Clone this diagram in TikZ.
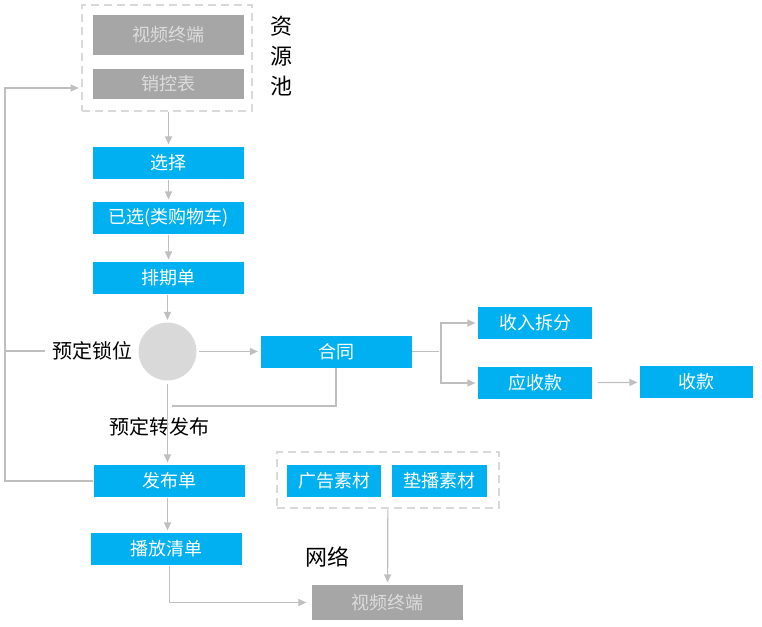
\documentclass[tikz,border=0pt]{standalone}
\usepackage{fontspec}
\setmainfont{Noto Sans CJK SC}
\usetikzlibrary{arrows.meta, positioning}
\definecolor{skyblue}{HTML}{00B0F0}
\definecolor{boxgray}{HTML}{A6A6A6}
\definecolor{textgray}{HTML}{DCDCDC}
\definecolor{linegray}{HTML}{BFBFBF}
\definecolor{dashgray}{HTML}{D9D9D9}

\tikzset{
  box/.style={rectangle, fill=skyblue, text=white, minimum width=151pt, minimum height=32pt, inner sep=0pt, font=\fontsize{18}{20}\selectfont},
  gbox/.style={box, fill=boxgray, text=textgray},
  groupbox/.style={rectangle, draw=dashgray, line width=2.6pt, dash pattern=on 8pt off 5pt, inner sep=0pt},
  label/.style={font=\fontsize{20}{22}\selectfont, inner sep=0pt}
}

\begin{document}
\begin{tikzpicture}[->,>={Triangle[length=8pt,width=7pt]},shorten >=2pt,x=1pt,y=-1pt,line width=1.2pt,draw=linegray]
                \useasboundingbox (0,0) rectangle (762,626);
                % resource pool
                \node[groupbox, minimum width=170pt, minimum height=106pt] (pool) at (167,58) {};
                \node[gbox, minimum height=40pt] (term) at (168.5,35) {视频终端};
                \node[gbox, minimum height=30pt] (ctrl) [below of = term, node distance=49pt] {销控表};
                \node[label, align=center, font=\fontsize{22}{30}\selectfont] (pooltxt) at (281,56) {资\\源\\池};
                % main column
                \node[box] (sel) at (168.5,163) {选择};
                \node[box] (cart) [below of = sel, node distance=55pt] {已选(类购物车)};
                \node[box] (plan) [below of = cart, node distance=60pt] {排期单};
                \node[circle, fill=dashgray, minimum size=58pt, inner sep=0pt] (lock) at (167.5,351.5) {};
                \node[label] (locktxt) at (92.5,351) {预定锁位};
                \node[box] (contract) at (336,351.5) {合同};
                \node[box, minimum width=114pt] (split) at (535,323) {收入拆分};
                \node[box, minimum width=114pt] (recv) [below of = split, node distance=60pt] {应收款};
                \node[box, minimum width=113pt] (pay) at (696.5,382) {收款};
                \node[label] (turntxt) at (159,427) {预定转发布};
                \node[box] (publish) at (169.5,481) {发布单};
                \node[box] (playlist) at (166.5,549) {播放清单};
                % materials
                \node[groupbox, minimum width=222pt, minimum height=56pt] (mat) at (388,480) {};
                \node[box, minimum width=94pt] (ad) at (334,481) {广告素材};
                \node[box, minimum width=95pt] (fill) [right of = ad, node distance=105.5pt] {垫播素材};
                \node[label, font=\fontsize{22}{24}\selectfont] (net) at (327.5,557) {网络};
                \node[gbox, minimum height=35pt] (term2) at (387.5,602.5) {视频终端};

                \coordinate (back) at (5,88);
                \coordinate (br) at (441,351.5);
                \coordinate (merge) at (170,406);

                \path[draw=linegray]
                (sel) edge (cart)
                (cart) edge (plan)
                (lock) edge[shorten <=2pt] (contract)
                (recv) edge[shorten <=5pt] (pay)
                (mat) edge (term2)
                ;
                \draw (pool.south -| sel) -- (sel.north);
                \draw (plan.south -| lock) -- (lock.north);
                \draw[shorten <=3pt] (lock.south) -- (publish.north -| lock);
                \draw (publish.south -| lock) -- (playlist.north -| lock);
                \draw[-] (contract.east) -- (br);
                \draw (br) |- (split.west);
                \draw (br) |- (recv.west);
                \draw[-] (contract.south) |- (merge);
                \draw (publish.west) -| (back) -- (pool.west |- back);
                \draw[-] (back |- locktxt) -- ([xshift=-5pt]locktxt.west);
                \draw ([xshift=3pt]playlist.south) |- ([xshift=-3pt]term2.west);
            \end{tikzpicture}
\end{document}
